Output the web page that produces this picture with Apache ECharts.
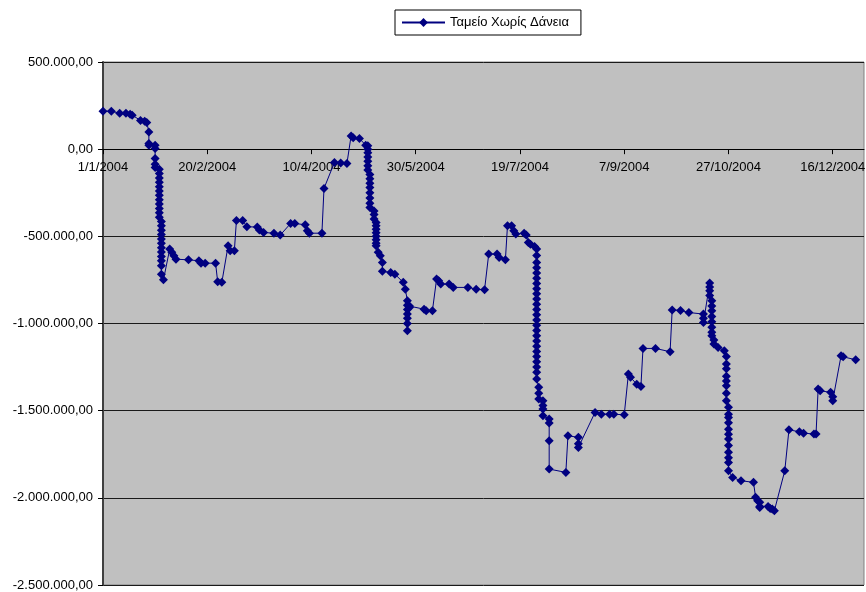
<!DOCTYPE html>
<html>
<head>
<meta charset="utf-8">
<script src="https://cdn.jsdelivr.net/npm/echarts@6/dist/echarts.min.js"></script>
<style>
  html, body { margin: 0; padding: 0; background: #ffffff; }
  #chart { width: 866px; height: 592px; }
</style>
</head>
<body>
<div id="chart"></div>
<script>
// Cash balance without loans, one entry per transaction (several per day possible)
const dates = [
  '2004-01-01','2004-01-05','2004-01-09','2004-01-12','2004-01-14','2004-01-15','2004-01-19','2004-01-21','2004-01-22',
  '2004-01-23','2004-01-23','2004-01-23',
  '2004-01-26','2004-01-26','2004-01-26','2004-01-26','2004-01-26',
  '2004-01-28','2004-01-28','2004-01-28','2004-01-28','2004-01-28','2004-01-28','2004-01-28','2004-01-28','2004-01-28','2004-01-28','2004-01-28','2004-01-28',
  '2004-01-29','2004-01-29','2004-01-29','2004-01-29','2004-01-29','2004-01-29','2004-01-29','2004-01-29','2004-01-29','2004-01-29','2004-01-29','2004-01-29',
  '2004-01-30','2004-02-02','2004-02-03','2004-02-04','2004-02-05','2004-02-11','2004-02-16','2004-02-17','2004-02-19','2004-02-24','2004-02-25','2004-02-27',
  '2004-03-01','2004-03-02','2004-03-04','2004-03-05','2004-03-08','2004-03-10','2004-03-15','2004-03-16','2004-03-18','2004-03-23','2004-03-26','2004-03-31',
  '2004-04-02','2004-04-07','2004-04-08','2004-04-09','2004-04-15','2004-04-16','2004-04-21','2004-04-24','2004-04-27','2004-04-29','2004-04-30',
  '2004-05-03','2004-05-06',
  '2004-05-07','2004-05-07','2004-05-07','2004-05-07','2004-05-07','2004-05-07','2004-05-07',
  '2004-05-08','2004-05-08','2004-05-08','2004-05-08','2004-05-08','2004-05-08','2004-05-08','2004-05-08',
  '2004-05-10','2004-05-10','2004-05-10',
  '2004-05-11','2004-05-11','2004-05-11','2004-05-11','2004-05-11','2004-05-11','2004-05-11','2004-05-11',
  '2004-05-12','2004-05-13','2004-05-14','2004-05-14','2004-05-18','2004-05-20','2004-05-24','2004-05-25',
  '2004-05-26','2004-05-26','2004-05-26','2004-05-26','2004-05-26','2004-05-26','2004-05-26',
  '2004-05-27','2004-05-27',
  '2004-06-03','2004-06-04','2004-06-07','2004-06-09','2004-06-10','2004-06-11','2004-06-15','2004-06-17','2004-06-24','2004-06-28',
  '2004-07-02','2004-07-04','2004-07-08','2004-07-09','2004-07-12','2004-07-13','2004-07-15','2004-07-16','2004-07-17','2004-07-21','2004-07-22',
  '2004-07-23','2004-07-24','2004-07-26',
  '2004-07-27','2004-07-27','2004-07-27','2004-07-27','2004-07-27','2004-07-27','2004-07-27','2004-07-27','2004-07-27','2004-07-27',
  '2004-07-27','2004-07-27','2004-07-27','2004-07-27','2004-07-27','2004-07-27','2004-07-27','2004-07-27','2004-07-27','2004-07-27',
  '2004-07-27','2004-07-27','2004-07-27','2004-07-27','2004-07-27',
  '2004-07-28','2004-07-28','2004-07-28',
  '2004-07-30','2004-07-30','2004-07-30','2004-07-30',
  '2004-08-02','2004-08-02','2004-08-02','2004-08-02',
  '2004-08-10','2004-08-11','2004-08-16','2004-08-16','2004-08-16',
  '2004-08-24','2004-08-27','2004-08-31','2004-09-02','2004-09-07','2004-09-09','2004-09-10','2004-09-13','2004-09-15','2004-09-16','2004-09-22','2004-09-29',
  '2004-09-30','2004-10-04','2004-10-08','2004-10-15','2004-10-15','2004-10-15',
  '2004-10-18','2004-10-18','2004-10-18','2004-10-18',
  '2004-10-19','2004-10-19','2004-10-19','2004-10-19','2004-10-19','2004-10-19','2004-10-19','2004-10-19',
  '2004-10-20','2004-10-20','2004-10-22','2004-10-25',
  '2004-10-26','2004-10-26','2004-10-26','2004-10-26','2004-10-26','2004-10-26','2004-10-26','2004-10-26',
  '2004-10-27','2004-10-27','2004-10-27','2004-10-27','2004-10-27','2004-10-27','2004-10-27','2004-10-27','2004-10-27','2004-10-27','2004-10-27','2004-10-27',
  '2004-10-29','2004-11-02','2004-11-08','2004-11-09','2004-11-10','2004-11-11','2004-11-11','2004-11-11',
  '2004-11-15','2004-11-16','2004-11-17','2004-11-18','2004-11-23','2004-11-25','2004-11-30',
  '2004-12-02','2004-12-07','2004-12-08','2004-12-09','2004-12-10','2004-12-15','2004-12-16','2004-12-16','2004-12-20','2004-12-21','2004-12-27'
];

const balances = [
  218000, 218000, 206000, 206000, 201000, 195000, 165000, 160000, 153000,
  99000, 33000, 23000,
  23000, 4000, -53000, -86000, -105000,
  -115000, -140000, -165000, -190000, -215000, -240000, -265000, -290000, -315000, -340000, -365000, -390000,
  -415000, -440000, -465000, -490000, -515000, -540000, -565000, -590000, -615000, -640000, -669000, -717000,
  -749000, -573000, -592000, -612000, -631000, -635000, -640000, -654000, -654000, -654000, -761000, -764000,
  -554000, -583000, -583000, -409000, -409000, -445000, -447000, -464000, -478000, -482000, -493000, -426000,
  -426000, -434000, -468000, -482000, -482000, -225000, -76000, -80000, -82000, 76000, 65000,
  61000, 23000,
  19000, 0, -20000, -45000, -70000, -95000, -120000,
  -145000, -170000, -195000, -220000, -250000, -280000, -310000, -334000,
  -354000, -375000, -400000,
  -420000, -440000, -460000, -480000, -500000, -520000, -540000, -554000,
  -592000, -612000, -650000, -701000, -707000, -717000, -764000, -803000,
  -870000, -895000, -920000, -945000, -970000, -1000000, -1042000,
  -900000, -908000,
  -918000, -927000, -927000, -745000, -755000, -774000, -774000, -793000, -793000, -803000,
  -807000, -602000, -602000, -621000, -635000, -440000, -440000, -468000, -487000, -482000, -493000,
  -535000, -545000, -558000,
  -573000, -610000, -650000, -680000, -710000, -740000, -770000, -800000, -830000, -860000,
  -890000, -920000, -950000, -980000, -1010000, -1040000, -1070000, -1100000, -1130000, -1160000,
  -1190000, -1220000, -1250000, -1280000, -1319000,
  -1366000, -1400000, -1433000,
  -1443000, -1470000, -1491000, -1529000,
  -1548000, -1571000, -1673000, -1835000,
  -1854000, -1644000, -1653000, -1690000, -1711000,
  -1510000, -1520000, -1520000, -1520000, -1524000, -1290000, -1309000, -1348000, -1361000, -1143000, -1143000, -1162000,
  -922000, -925000, -937000, -946000, -970000, -994000,
  -768000, -790000, -812000, -840000,
  -870000, -900000, -927000, -960000, -990000, -1022000, -1050000, -1070000,
  -1095000, -1118000, -1137000, -1156000,
  -1189000, -1233000, -1260000, -1303000, -1330000, -1357000, -1400000, -1443000,
  -1480000, -1520000, -1539000, -1570000, -1606000, -1635000, -1663000, -1700000, -1739000, -1770000, -1797000, -1845000,
  -1883000, -1902000, -1911000, -1997000, -2017000, -2026000, -2049000, -2055000,
  -2049000, -2061000, -2064000, -2074000, -1845000, -1610000, -1621000,
  -1629000, -1634000, -1634000, -1376000, -1386000, -1395000, -1420000, -1443000, -1185000, -1191000, -1208000
];

const seriesName = 'Ταμείο Χωρίς Δάνεια';
const yTicks = [500000, 0, -500000, -1000000, -1500000, -2000000, -2500000];
const startDate = '2004-01-01';
const endDate = '2004-12-31';
const tickStepDays = 50;

const DAY = 86400000;
const origin = Date.parse(startDate);
const dayOf = s => Math.round((Date.parse(s) - origin) / DAY);

const points = dates.map((d, i) => [dayOf(d), balances[i]]);

function fmtNumber(v) {
  const neg = v < 0;
  const abs = Math.round(Math.abs(v));
  const s = String(abs).replace(/\B(?=(\d{3})+(?!\d))/g, '.');
  return (neg ? '-' : '') + s + ',00';
}
function fmtDay(v) {
  const d = new Date(origin + v * DAY);
  return d.getUTCDate() + '/' + (d.getUTCMonth() + 1) + '/' + d.getUTCFullYear();
}

// plot box
const gridTop = 62, gridBottom = 7, chartH = 592;
const yMax = yTicks[0], yMin = yTicks[yTicks.length - 1];
const plotH = chartH - gridTop - gridBottom;
// the date axis crosses the value axis at zero
const zeroFromBottom = plotH * (0 - yMin) / (yMax - yMin);

const chart = echarts.init(document.getElementById('chart'), null, { renderer: 'canvas' });
const font = '"Liberation Sans", Arial, sans-serif';

chart.setOption({
  backgroundColor: '#ffffff',
  animation: false,
  textStyle: { fontFamily: font },
  legend: {
    left: 395,
    top: 10,
    data: [seriesName],
    borderColor: '#000000',
    borderWidth: 1,
    borderRadius: 0,
    padding: [6, 12, 6, 6],
    itemWidth: 43,
    itemHeight: 11,
    itemGap: 0,
    textStyle: { fontSize: 13, color: '#000000', fontFamily: font }
  },
  grid: {
    left: 103,
    right: 2,
    top: gridTop,
    bottom: gridBottom,
    show: true,
    backgroundColor: '#C0C0C0',
    borderColor: '#808080',
    borderWidth: 1,
    containLabel: false,
    outerBoundsMode: 'none'
  },
  xAxis: {
    type: 'value',
    position: 'bottom',
    offset: -zeroFromBottom,
    min: 0,
    max: dayOf(endDate),
    interval: tickStepDays,
    axisLine: { show: true, onZero: false, lineStyle: { color: '#000000', width: 1 } },
    axisTick: { show: true, inside: false, length: 5, lineStyle: { color: '#000000' } },
    axisLabel: {
      show: true,
      margin: 12,
      fontSize: 13,
      color: '#000000',
      fontFamily: font,
      showMinLabel: true,
      showMaxLabel: false,
      hideOverlap: false,
      formatter: v => fmtDay(v)
    },
    splitLine: { show: false }
  },
  yAxis: {
    type: 'value',
    min: yMin,
    max: yMax,
    interval: 500000,
    axisLine: { show: true, lineStyle: { color: '#404040', width: 2 } },
    axisTick: { show: true, inside: false, length: 5, lineStyle: { color: '#000000' } },
    axisLabel: {
      margin: 10,
      fontSize: 13,
      color: '#000000',
      fontFamily: font,
      formatter: v => fmtNumber(v)
    },
    splitLine: { show: true, lineStyle: { color: '#1a1a1a', width: 1 } }
  },
  series: [{
    name: seriesName,
    type: 'line',
    data: points,
    symbol: 'diamond',
    symbolSize: 9,
    showAllSymbol: true,
    lineStyle: { color: '#000080', width: 1 },
    itemStyle: { color: '#000080', borderWidth: 0 },
    emphasis: { disabled: true }
  }]
});
</script>
</body>
</html>
